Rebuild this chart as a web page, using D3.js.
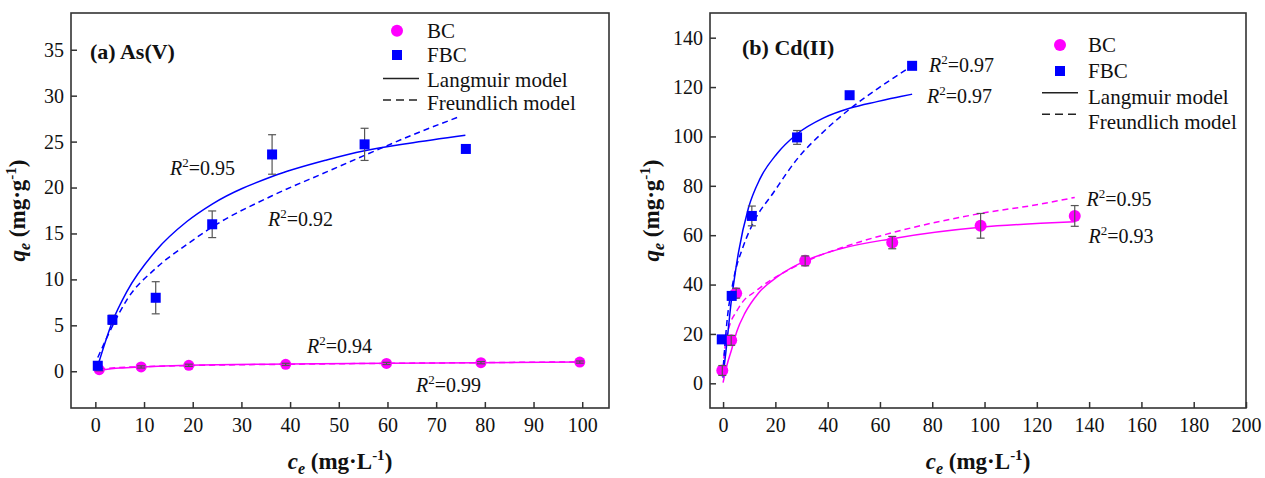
<!DOCTYPE html>
<html>
<head>
<meta charset="utf-8">
<script src="https://cdn.jsdelivr.net/npm/d3@7"></script>
<style>
  body { margin: 0; background: #fff; }
  text { font-family: "Liberation Serif", "Times New Roman", serif; fill: #111; }
</style>
</head>
<body>
<svg id="chart" width="1265" height="478"></svg>
<script>
// ---- (a) As(V) ----
const asBcX = [0.8, 9.4, 19.2, 39.1, 59.8, 79.2, 99.5];
const asBcY = [0.17, 0.47, 0.65, 0.75, 0.85, 0.93, 1.0];
const asBcErr = [0.12, 0.12, 0.12, 0.12, 0.12, 0.12, 0.12];
const asFbcX = [0.5, 3.5, 12.4, 24.0, 36.3, 55.3, 76.1];
const asFbcY = [0.6, 5.6, 8.0, 16.0, 23.6, 24.7, 24.2];
const asFbcErr = [0.3, 0.5, 1.75, 1.45, 2.15, 1.75, 0.4];
// fitted curves
const asFbcLangX = [0.5, 3.5, 6.5, 12.4, 18.8, 24, 36.3, 47.5, 55.3, 64.2, 76];
const asFbcLangY = [0.6, 5.4, 8.7, 13.1, 16.3, 18.2, 21.2, 23.0, 24.0, 24.8, 25.7];
const asFbcFreuX = [0.5, 3.5, 6.5, 12.4, 18.8, 24, 36.3, 47.5, 55.3, 65, 74.7];
const asFbcFreuY = [1.5, 4.9, 7.8, 11.2, 13.8, 15.7, 19.1, 21.7, 23.5, 25.7, 27.7];
const asBcLangX = [0.8, 5, 9.4, 19.2, 39.1, 59.8, 79.2, 99.5];
const asBcLangY = [0.1, 0.35, 0.47, 0.65, 0.78, 0.87, 0.93, 1.0];
const asBcFreuX = [0.8, 5, 9.4, 19.2, 39.1, 59.8, 79.2, 99.5];
const asBcFreuY = [0.25, 0.4, 0.5, 0.62, 0.76, 0.86, 0.94, 1.02];

// ---- (b) Cd(II) ----
const cdBcX = [-0.3, 3.1, 5.0, 31.4, 64.7, 98.5, 134.5];
const cdBcY = [5.2, 17.4, 36.5, 49.6, 57.0, 63.8, 67.8];
const cdBcErr = [2, 2, 2, 2, 2.5, 5, 4.2];
const cdFbcX = [-0.5, 3.3, 11.0, 28.3, 48.4, 72.3];
const cdFbcY = [17.8, 35.4, 67.8, 99.6, 116.7, 128.6];
const cdFbcErr = [1, 1, 4, 2.8, 1, 1];
const cdFbcLangX = [-0.1, 1, 2, 3.1, 4.0, 5.9, 9.7, 14.2, 20.6, 28.3, 38.5, 48.7, 58.9, 67.9, 72.3];
const cdFbcLangY = [2.3, 12, 22, 33, 40, 53, 71, 83, 93, 101, 107.5, 111.5, 114.1, 116.2, 117.1];
const cdFbcFreuX = [0.1, 1.4, 4.0, 7.8, 11.6, 19.3, 28.3, 38.5, 48.7, 58.9, 67.9, 72.3];
const cdFbcFreuY = [7, 24, 42, 55.7, 65.1, 77.3, 90.8, 102, 111.3, 119.2, 125.6, 128.6];
const cdBcLangX = [0, 1.4, 3.3, 5.25, 8.4, 13.5, 21.2, 31.4, 44.9, 64.7, 98.5, 121.5, 134.5];
const cdBcLangY = [0.3, 7, 13.8, 21, 28.5, 36.5, 43.5, 49.6, 54.5, 58.6, 63.2, 64.8, 65.4];
const cdBcFreuX = [0.3, 1, 2.5, 5.25, 7.8, 12.3, 16.8, 20.6, 31.4, 45, 64.7, 98.5, 121.5, 134.5];
const cdBcFreuY = [10, 17, 23.5, 29.3, 33.4, 37.2, 40.8, 43.3, 49.3, 54.8, 61, 68.8, 72.6, 75.3];

const xTicksA = d3.range(0, 101, 10);
const yTicksA = d3.range(0, 36, 5);
const xTicksB = d3.range(0, 201, 20);
const yTicksB = d3.range(0, 141, 20);

const BLUE = '#0000ff';
const PINK = '#ff00ff';
const FRAME = '#333';

const svg = d3.select('#chart');

function pts(xs, ys, es) {
  return xs.map((x, i) => ({x: x, y: ys[i], e: es ? es[i] : 0}));
}

function drawPanel(cfg) {
  const x = d3.scaleLinear().domain(cfg.xDomain).range([cfg.left, cfg.right]);
  const y = d3.scaleLinear().domain(cfg.yDomain).range([cfg.bottom, cfg.top]);
  const g = svg.append('g');

  // axes, ticks pointing inward
  const xAxis = g.append('g')
    .attr('transform', `translate(0,${cfg.bottom})`)
    .call(d3.axisBottom(x).tickValues(cfg.xTicks).tickSizeInner(-6).tickSizeOuter(0).tickPadding(9.5));
  const yAxis = g.append('g')
    .attr('transform', `translate(${cfg.left},0)`)
    .call(d3.axisLeft(y).tickValues(cfg.yTicks).tickSizeInner(-6).tickSizeOuter(0).tickPadding(7));
  [xAxis, yAxis].forEach(a => {
    a.select('.domain').remove();
    a.selectAll('.tick line').attr('stroke', FRAME).attr('stroke-width', 1.5);
    a.selectAll('.tick text').attr('font-size', 20).attr('fill', '#111')
      .style('font-family', '"Liberation Serif", serif');
  });

  g.append('rect')
    .attr('x', cfg.left).attr('y', cfg.top)
    .attr('width', cfg.right - cfg.left).attr('height', cfg.bottom - cfg.top)
    .attr('fill', 'none').attr('stroke', FRAME).attr('stroke-width', 1.6);

  const line = d3.line().x(d => x(d.x)).y(d => y(d.y)).curve(d3.curveMonotoneX);

  cfg.curves.forEach(c => {
    g.append('path')
      .attr('d', line(c.data))
      .attr('fill', 'none')
      .attr('stroke', c.color)
      .attr('stroke-width', 1.5)
      .attr('stroke-dasharray', c.dash ? '6,4' : null);
  });

  const errBars = (data) => {
    const eb = g.append('g').attr('stroke', '#555').attr('stroke-width', 1.2);
    data.forEach(d => {
      if (!d.e) return;
      const cx = x(d.x), y1 = y(d.y + d.e), y2 = y(d.y - d.e);
      eb.append('line').attr('x1', cx).attr('x2', cx).attr('y1', y1).attr('y2', y2);
      eb.append('line').attr('x1', cx - 4).attr('x2', cx + 4).attr('y1', y1).attr('y2', y1);
      eb.append('line').attr('x1', cx - 4).attr('x2', cx + 4).attr('y1', y2).attr('y2', y2);
    });
  };

  // BC circles with error bars drawn over them
  g.append('g').selectAll('circle')
    .data(cfg.bc)
    .enter().append('circle')
      .attr('cx', d => x(d.x))
      .attr('cy', d => y(d.y))
      .attr('r', cfg.r)
      .attr('fill', PINK);
  errBars(cfg.bc);

  // FBC squares
  errBars(cfg.fbc);
  g.append('g').selectAll('rect')
    .data(cfg.fbc)
    .enter().append('rect')
      .attr('x', d => x(d.x) - 5)
      .attr('y', d => y(d.y) - 5)
      .attr('width', 10).attr('height', 10)
      .attr('fill', BLUE);

  // panel title
  g.append('text')
    .attr('x', cfg.title.x).attr('y', cfg.title.y)
    .attr('font-size', 22).attr('font-weight', 'bold')
    .text(cfg.title.text);

  // R^2 labels
  cfg.r2.forEach(r => {
    const t = g.append('text').attr('x', r.x).attr('y', r.y).attr('font-size', 20);
    t.append('tspan').attr('font-style', 'italic').text('R');
    t.append('tspan').attr('font-size', 13).attr('dy', -8).text('2');
    t.append('tspan').attr('dy', 8).text('=' + r.v);
  });

  // legend
  const L = cfg.legend;
  const lg = g.append('g').attr('font-size', 21);
  lg.append('circle').attr('cx', L.mx).attr('cy', L.rows[0]).attr('r', 6).attr('fill', PINK);
  lg.append('rect').attr('x', L.mx - 5).attr('y', L.rows[1] - 5).attr('width', 10).attr('height', 10).attr('fill', BLUE);
  lg.append('line').attr('x1', L.l1).attr('x2', L.l2).attr('y1', L.lines[0]).attr('y2', L.lines[0])
    .attr('stroke', '#222').attr('stroke-width', 1.5);
  lg.append('line').attr('x1', L.l1).attr('x2', L.l2).attr('y1', L.lines[1]).attr('y2', L.lines[1])
    .attr('stroke', '#222').attr('stroke-width', 1.5).attr('stroke-dasharray', '8,5');
  ['BC', 'FBC', 'Langmuir model', 'Freundlich model'].forEach((s, i) => {
    lg.append('text').attr('x', L.tx).attr('y', L.base[i]).text(s);
  });

  // axis titles
  const xt = g.append('text')
    .attr('x', (cfg.left + cfg.right) / 2).attr('y', 469)
    .attr('text-anchor', 'middle').attr('font-size', 23).attr('font-weight', 'bold');
  xt.append('tspan').attr('font-style', 'italic').text('c');
  xt.append('tspan').attr('font-style', 'italic').attr('font-size', 16).attr('dy', 5).text('e');
  xt.append('tspan').attr('dy', -5).text(' (mg·L');
  xt.append('tspan').attr('font-size', 15).attr('dy', -9).text('-1');
  xt.append('tspan').attr('dy', 9).text(')');

  const yt = g.append('text')
    .attr('transform', `translate(${cfg.yTitleX},${(cfg.top + cfg.bottom) / 2}) rotate(-90)`)
    .attr('text-anchor', 'middle').attr('font-size', 23).attr('font-weight', 'bold');
  yt.append('tspan').attr('font-style', 'italic').text('q');
  yt.append('tspan').attr('font-style', 'italic').attr('font-size', 16).attr('dy', 5).text('e');
  yt.append('tspan').attr('dy', -5).text(' (mg·g');
  yt.append('tspan').attr('font-size', 15).attr('dy', -9).text('-1');
  yt.append('tspan').attr('dy', 9).text(')');
}

drawPanel({
  left: 71, right: 609, top: 13, bottom: 408,
  xDomain: [-5, 105.5], yDomain: [-4, 39],
  xTicks: xTicksA, yTicks: yTicksA,
  yTitleX: 25, r: 5.5,
  bc: pts(asBcX, asBcY, asBcErr),
  fbc: pts(asFbcX, asFbcY, asFbcErr),
  curves: [
    {data: pts(asBcLangX, asBcLangY), color: PINK, dash: false},
    {data: pts(asBcFreuX, asBcFreuY), color: PINK, dash: true},
    {data: pts(asFbcLangX, asFbcLangY), color: BLUE, dash: false},
    {data: pts(asFbcFreuX, asFbcFreuY), color: BLUE, dash: true}
  ],
  title: {text: '(a) As(V)', x: 90, y: 59},
  r2: [
    {x: 170, y: 175, v: '0.95'},
    {x: 268, y: 225.5, v: '0.92'},
    {x: 307, y: 353, v: '0.94'},
    {x: 416, y: 392, v: '0.99'}
  ],
  legend: {mx: 397, tx: 427, l1: 383, l2: 419, rows: [30.7, 55], lines: [78.5, 100], base: [37.5, 62, 87, 110]}
});

drawPanel({
  left: 710, right: 1246, top: 13, bottom: 408,
  xDomain: [-5, 200], yDomain: [-10, 150],
  xTicks: xTicksB, yTicks: yTicksB,
  yTitleX: 659, r: 6,
  bc: pts(cdBcX, cdBcY, cdBcErr),
  fbc: pts(cdFbcX, cdFbcY, cdFbcErr),
  curves: [
    {data: pts(cdBcLangX, cdBcLangY), color: PINK, dash: false},
    {data: pts(cdBcFreuX, cdBcFreuY), color: PINK, dash: true},
    {data: pts(cdFbcLangX, cdFbcLangY), color: BLUE, dash: false},
    {data: pts(cdFbcFreuX, cdFbcFreuY), color: BLUE, dash: true}
  ],
  title: {text: '(b) Cd(II)', x: 742, y: 54.5},
  r2: [
    {x: 929, y: 72, v: '0.97'},
    {x: 927, y: 103, v: '0.97'},
    {x: 1086.5, y: 206, v: '0.95'},
    {x: 1088.5, y: 243, v: '0.93'}
  ],
  legend: {mx: 1060, tx: 1088, l1: 1042, l2: 1078, rows: [45, 71], lines: [92.7, 114.3], base: [52, 78, 104, 128.5]}
});
</script>
</body>
</html>
